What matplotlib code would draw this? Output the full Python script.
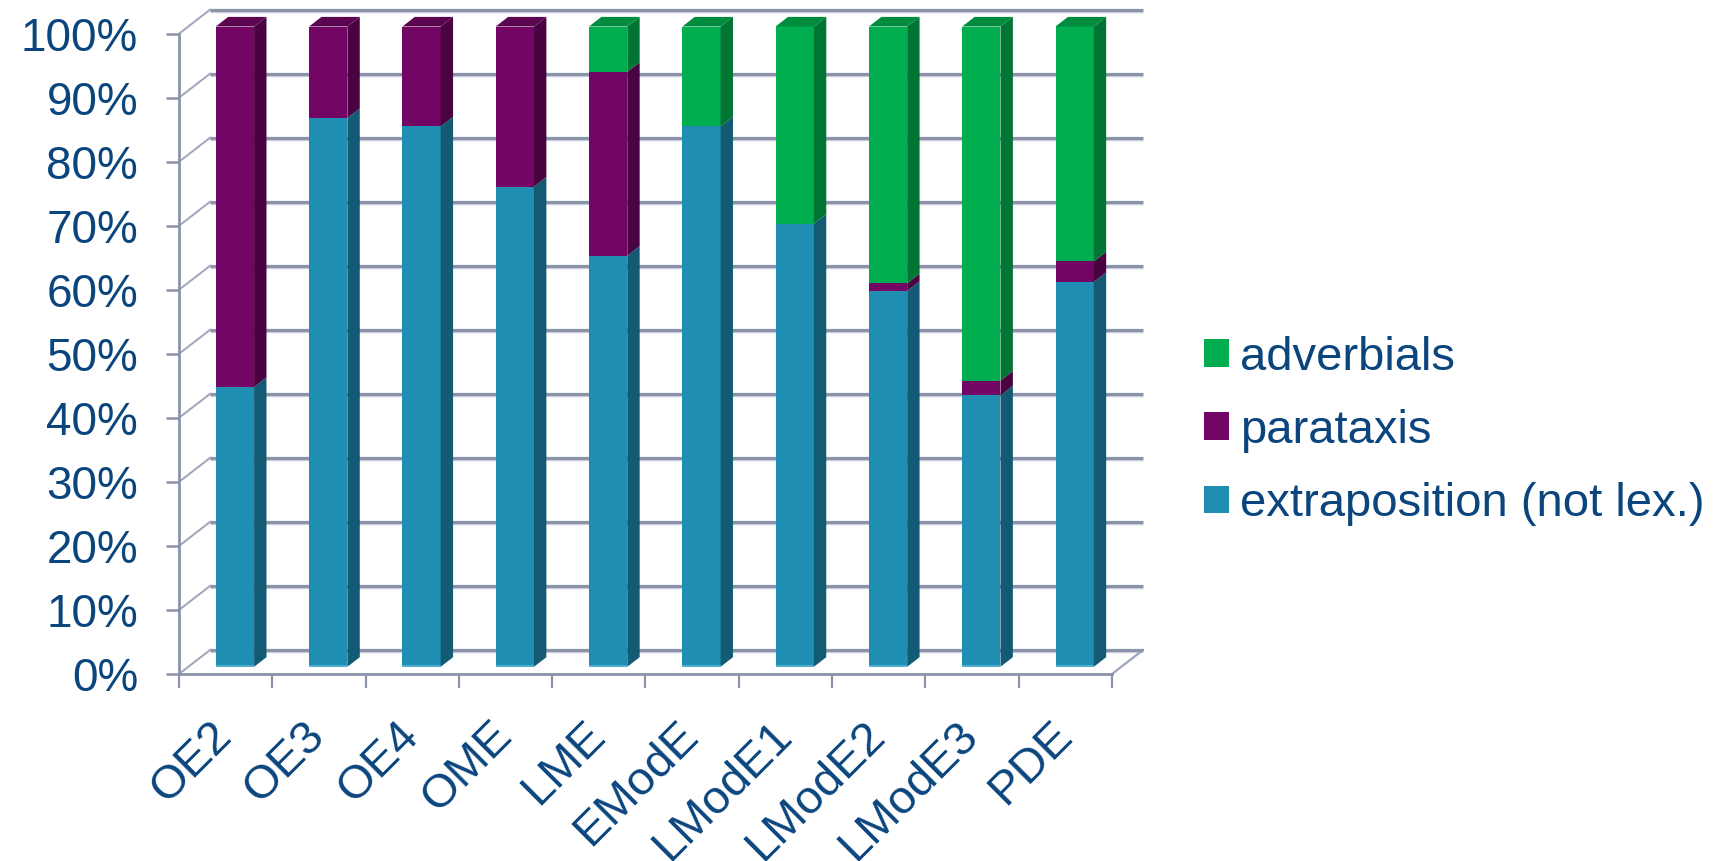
import matplotlib
matplotlib.use('Agg')
import matplotlib.pyplot as plt
from matplotlib.patches import Polygon, Rectangle
from matplotlib.transforms import offset_copy, ScaledTranslation
import numpy as np

# ---------------- data ----------------
categories = ['OE2', 'OE3', 'OE4', 'OME', 'LME', 'EModE', 'LModE1', 'LModE2', 'LModE3', 'PDE']
extraposition = [43.7, 85.7, 84.4, 75.0, 64.2, 84.4, 69.2, 58.7, 42.4, 60.1]
parataxis = [56.3, 14.3, 15.6, 25.0, 28.7, 0.0, 0.0, 1.2, 2.3, 3.2]
adverbials = [0.0, 0.0, 0.0, 0.0, 7.1, 15.6, 30.8, 40.1, 55.3, 36.7]
series_names = ['extraposition (not lex.)', 'parataxis', 'adverbials']
y_ticks = list(range(0, 101, 10))
y_tick_labels = [f'{v}%' for v in y_ticks]

# ---------------- style ----------------
plt.rcParams['font.family'] = ['Liberation Sans', 'DejaVu Sans']
TEXT = '#0B457D'
GRID = '#8A93A9'
GRID_LIGHT = '#CDD2DE'
WALL = '#9EA5B8'
front_cols = ['#208DB2', '#730665', '#00AE4F']
side_cols = ['#135B74', '#480340', '#007534']
top_cols = ['#1A7595', '#5B0450', '#008C3E']

W, H, DPI = 1725, 861, 100
fig = plt.figure(figsize=(W / DPI, H / DPI), dpi=DPI)
ax = fig.add_axes([179 / W, (H - 674) / H, 933 / W, 640.3 / H])
n = len(categories)
ax.set_xlim(-0.5, n - 0.5)
ax.set_ylim(0, 100)

# depth vector of the 3D box (data units)
DX = 31 / 93.3
DY = 24 / 6.403
FO = 0.30   # front of bars (fraction of depth)
BD = 0.40   # depth of bars (fraction of depth)
BW = 0.41   # bar width

shadow = offset_copy(ax.transData, fig=fig, x=0, y=-2.2, units='dots')
# back wall gridlines
for v in y_ticks:
    ax.plot([-0.5 + DX, n - 0.5 + DX], [v + DY, v + DY], color=GRID_LIGHT, lw=1.0,
            clip_on=False, zorder=1, transform=shadow, solid_capstyle='butt')
    ax.plot([-0.5 + DX, n - 0.5 + DX], [v + DY, v + DY], color=GRID, lw=2.3,
            clip_on=False, zorder=1.2, solid_capstyle='butt')
    # side wall diagonals
    ax.plot([-0.5, -0.5 + DX], [v, v + DY], color=WALL, lw=1.4, clip_on=False, zorder=1.1)
# floor right diagonal
ax.plot([n - 0.5, n - 0.5 + DX], [0, DY], color=WALL, lw=1.6, clip_on=False, zorder=1.1)

# bars
x = np.arange(n)
stack = [extraposition, parataxis, adverbials]
bottom = np.zeros(n)
top_series = np.zeros(n, dtype=int)
for s, vals in enumerate(stack):
    vals = np.array(vals)
    ax.bar(x + FO * DX, vals, BW, bottom=bottom + FO * DY, color=front_cols[s],
           zorder=3, clip_on=False, linewidth=0, label=series_names[s])
    for i in range(n):
        if vals[i] <= 0:
            continue
        xr = x[i] + FO * DX + BW / 2
        y0 = bottom[i] + FO * DY
        y1 = y0 + vals[i]
        ax.add_patch(Polygon([(xr, y0), (xr + BD * DX, y0 + BD * DY),
                              (xr + BD * DX, y1 + BD * DY), (xr, y1)],
                             closed=True, facecolor=side_cols[s], edgecolor='none',
                             zorder=3, clip_on=False))
        top_series[i] = s
    bottom = bottom + vals

for i in range(n):
    s = top_series[i]
    xl = x[i] + FO * DX - BW / 2
    xr = xl + BW
    yt = bottom[i] + FO * DY
    ax.add_patch(Polygon([(xl, yt), (xl + BD * DX, yt + BD * DY),
                          (xr + BD * DX, yt + BD * DY), (xr, yt)],
                         closed=True, facecolor=top_cols[s], edgecolor='none',
                         zorder=3, clip_on=False))
    # light bottom edge of the bar
    ax.plot([xl, xr], [FO * DY + 0.15, FO * DY + 0.15], color='#55B3D3', lw=1.3,
            zorder=3.5, clip_on=False, solid_capstyle='butt')

# axes styling
for sp in ['top', 'right']:
    ax.spines[sp].set_visible(False)
for sp in ['left', 'bottom']:
    ax.spines[sp].set_color(GRID)
    ax.spines[sp].set_linewidth(2.0)
ax.set_yticks(y_ticks)
ax.set_yticklabels(y_tick_labels)
ax.tick_params(axis='y', direction='out', length=9.5, width=1.8, color=GRID,
               labelsize=33, labelcolor=TEXT, pad=20)
ax.set_xticks(x)
ax.set_xticklabels(categories, rotation=45, ha='right', va='baseline',
                   rotation_mode='anchor')
ax.set_xticks(np.arange(-0.5, n, 1.0), minor=True)
ax.tick_params(axis='x', which='major', length=0, labelsize=34, labelcolor=TEXT, pad=45.4)
ax.tick_params(axis='x', which='minor', direction='out', length=9.8, width=1.6, color=GRID)
shift = ScaledTranslation(8 / DPI, 0, fig.dpi_scale_trans)
for lab in ax.get_xticklabels():
    lab.set_transform(lab.get_transform() + shift)
ax.patch.set_visible(False)

handles = [Rectangle((0, 0), 1, 1, facecolor=front_cols[s], edgecolor='none') for s in (2, 1, 0)]
labels = [series_names[s] for s in (2, 1, 0)]
fig.legend(handles, labels, loc='center left', bbox_to_anchor=(1204 / W, (H - 431) / H),
           frameon=False, fontsize=34, handlelength=0.53, handleheight=0.53,
           handletextpad=0.23, labelspacing=0.62, borderpad=0, borderaxespad=0,
           labelcolor=TEXT)

fig.savefig('out.png', dpi=DPI)
